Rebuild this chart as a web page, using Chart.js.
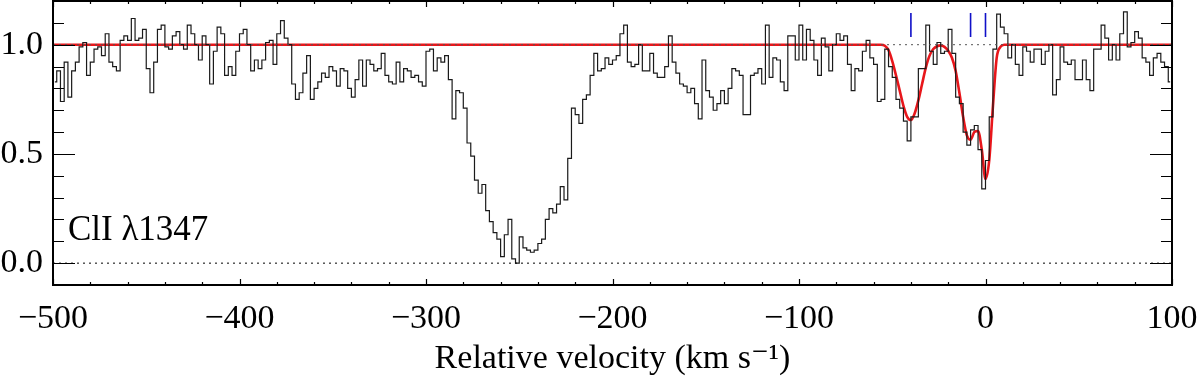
<!DOCTYPE html>
<html>
<head>
<meta charset="utf-8">
<script src="https://cdn.jsdelivr.net/npm/chart.js@4.4.1/dist/chart.umd.min.js"></script>
<style>
  html, body { margin: 0; padding: 0; background: #fff; }
  #wrap { width: 1200px; height: 378px; }
</style>
</head>
<body>
<div id="wrap"><canvas id="spec" width="1200" height="378"></canvas></div>
<script>
// ===== Cl II 1347 velocity profile =====

// pixel grid of the spectrum: first bin centre and bin width (km/s)
const VEL_START = -499;
const VEL_STEP = 2;

// normalised flux, one value per bin
const flux = [
    0.83, 0.88, 0.74, 0.92, 0.76, 0.88, 0.92, 0.99, 1.01, 0.86,
    0.92, 0.98, 0.99, 0.95, 1.05, 0.92, 0.90, 0.88, 1.02, 1.04,
    1.02, 1.12, 1.02, 1.03, 1.07, 0.89, 0.78, 0.92, 1.07, 1.09,
    0.99, 0.98, 1.04, 1.06, 1.00, 0.98, 1.09, 1.05, 1.00, 0.93,
    1.04, 1.00, 0.82, 0.97, 1.08, 1.05, 0.86, 0.90, 0.86, 0.97,
    1.05, 1.07, 1.00, 0.88, 0.93, 0.89, 0.93, 1.01, 1.02, 0.91,
    1.05, 1.11, 1.03, 1.00, 0.82, 0.75, 0.78, 0.87, 0.95, 0.75,
    0.80, 0.83, 0.87, 0.85, 0.90, 0.88, 0.81, 0.89, 0.88, 0.80,
    0.76, 0.84, 0.93, 0.81, 0.93, 0.91, 0.88, 0.89, 0.96, 0.86,
    0.83, 0.82, 0.92, 0.83, 0.89, 0.88, 0.85, 0.86, 0.83, 0.81,
    0.97, 0.98, 0.88, 0.94, 0.92, 0.95, 0.84, 0.66, 0.79, 0.78,
    0.71, 0.55, 0.49, 0.38, 0.32, 0.36, 0.24, 0.19, 0.14, 0.11,
    0.03, 0.13, 0.20, 0.02, 0.00, 0.12, 0.07, 0.06, 0.05, 0.06,
    0.09, 0.11, 0.20, 0.25, 0.23, 0.27, 0.35, 0.29, 0.48, 0.71,
    0.68, 0.64, 0.75, 0.77, 0.86, 0.96, 0.88, 0.89, 0.94, 0.91,
    0.93, 0.95, 1.05, 1.09, 0.92, 0.90, 0.91, 1.00, 0.88, 0.88,
    0.96, 0.87, 0.85, 0.85, 0.90, 1.04, 0.92, 0.87, 0.82, 0.81,
    0.78, 0.80, 0.73, 0.66, 0.93, 0.79, 0.76, 0.70, 0.73, 0.79,
    0.73, 0.80, 0.89, 0.88, 0.86, 0.68, 0.68, 0.86, 0.87, 0.89,
    0.82, 1.09, 0.85, 0.94, 0.93, 0.83, 0.79, 1.04, 1.04, 0.93,
    1.09, 0.93, 1.07, 1.02, 0.93, 0.86, 1.03, 0.99, 0.88, 1.00,
    1.05, 1.02, 1.04, 0.91, 0.79, 0.89, 0.88, 0.97, 1.02, 0.94,
    0.91, 0.74, 0.75, 0.98, 0.90, 0.85, 0.75, 0.71, 0.65, 0.56,
    0.67, 0.67, 0.89, 0.89, 1.09, 0.97, 0.91, 1.01, 0.96, 0.97,
    1.07, 0.96, 0.76, 0.73, 0.60, 0.54, 0.61, 0.63, 0.52, 0.34,
    0.47, 0.67, 0.98, 1.14, 1.08, 1.05, 0.94, 1.00, 0.91, 0.86,
    0.99, 0.97, 0.92, 0.98, 0.98, 0.91, 0.97, 1.00, 0.77, 0.84,
    0.99, 0.92, 0.91, 0.93, 0.84, 0.84, 0.93, 0.84, 0.79, 0.98,
    0.98, 1.09, 1.03, 0.93, 1.00, 0.93, 1.05, 1.15, 0.99, 1.01,
    1.06, 1.03, 0.94, 0.92, 0.86, 0.94, 0.96, 0.92, 0.90, 0.83
];

// Voigt profile fit (red curve)
const fitVel = [
    -500, -58, -56, -54, -52, -50, -48, -46, -44, -42, -40, -38, -36, -34,
    -32, -30, -28, -26, -24, -22, -20, -18, -16, -14, -12, -10, -8, -6,
    -4, -2, 0, 2, 4, 6, 8, 10, 12, 100
];
const fitFlux = [
    1.0, 1.0, 1.0, 0.995, 0.975, 0.925, 0.86, 0.79, 0.72, 0.67, 0.655, 0.685, 0.745, 0.82,
    0.895, 0.95, 0.98, 0.993, 0.997, 0.99, 0.972, 0.94, 0.88, 0.78, 0.67, 0.585, 0.565, 0.60,
    0.605, 0.52, 0.385, 0.47, 0.72, 0.94, 0.99, 1.0, 1.0, 1.0
];

// component positions (blue marks)
const componentVel = [-40, -8, 0];
const markLow = 1.035;
const markHigh = 1.145;

// axes
const xRange = [-500, 100];
const yRange = [-0.1, 1.2];
const xTickLabels = [-500, -400, -300, -200, -100, 0, 100];
const yTickLabels = [0.0, 0.5, 1.0];
const xMinorStep = 20;
const yMinorStep = 0.1;

const ionLabel = 'ClI \u03bb1347';
const ionLabelPos = { x: -492, y: 0.105 };

const SERIF = '"Liberation Serif", "DejaVu Serif", serif';

// build point lists for the library
const specPoints = flux.map((f, i) => ({ x: VEL_START + i * VEL_STEP, y: f }));
const fitPoints = fitVel.map((v, i) => ({ x: v, y: fitFlux[i] }));
const markPoints = [];
componentVel.forEach(v => {
    markPoints.push({ x: v, y: markLow }, { x: v, y: markHigh }, { x: v, y: null });
});

// frame, inward ticks (IDL style) and the ion label
const frameTicks = {
    id: 'frameTicks',
    afterDatasetsDraw(chart) {
        const { ctx, chartArea: a, scales: { x, y } } = chart;
        ctx.save();
        ctx.strokeStyle = '#000';

        // minor + major ticks along x (bottom and top)
        ctx.lineWidth = 1.2;
        for (let v = xRange[0]; v <= xRange[1] + 1e-9; v += xMinorStep) {
            const px = Math.round(x.getPixelForValue(v)) + 0.5;
            const major = xTickLabels.includes(v);
            const len = major ? 6 : 3;
            ctx.beginPath();
            ctx.moveTo(px, a.bottom); ctx.lineTo(px, a.bottom - len);
            ctx.moveTo(px, a.top); ctx.lineTo(px, a.top + len);
            ctx.stroke();
        }
        // minor + major ticks along y (left and right)
        for (let k = 0; k <= Math.round((yRange[1] - yRange[0]) / yMinorStep); k++) {
            const v = +(yRange[0] + k * yMinorStep).toFixed(2);
            const py = Math.round(y.getPixelForValue(v)) + 0.5;
            const major = yTickLabels.some(t => Math.abs(t - v) < 1e-6);
            const len = major ? 22 : 11;
            ctx.beginPath();
            ctx.moveTo(a.left, py); ctx.lineTo(a.left + len, py);
            ctx.moveTo(a.right, py); ctx.lineTo(a.right - len, py);
            ctx.stroke();
        }

        // box
        ctx.lineWidth = 2;
        ctx.strokeRect(a.left, a.top, a.right - a.left, a.bottom - a.top);

        // ion label
        ctx.fillStyle = '#000';
        ctx.font = '35px ' + SERIF;
        ctx.textBaseline = 'alphabetic';
        ctx.textAlign = 'left';
        ctx.fillText(ionLabel, x.getPixelForValue(ionLabelPos.x), y.getPixelForValue(ionLabelPos.y));
        ctx.restore();
    }
};

function minusLabel(v) {
    return v < 0 ? '\u2212' + Math.abs(v) : String(v);
}

document.addEventListener('DOMContentLoaded', function() {
    const ctx = document.getElementById('spec');

    new Chart(ctx, {
        type: 'line',
        data: {
            datasets: [
                {   // zero level
                    data: [{ x: xRange[0], y: 0 }, { x: xRange[1], y: 0 }],
                    borderColor: '#000',
                    borderWidth: 1,
                    borderDash: [2, 4],
                    pointRadius: 0
                },
                {   // continuum
                    data: [{ x: xRange[0], y: 1 }, { x: xRange[1], y: 1 }],
                    borderColor: '#555',
                    borderWidth: 1,
                    borderDash: [2, 4],
                    pointRadius: 0
                },
                {   // observed spectrum
                    data: specPoints,
                    borderColor: '#1a1a1a',
                    borderWidth: 1.2,
                    stepped: 'middle',
                    pointRadius: 0
                },
                {   // fit
                    data: fitPoints,
                    borderColor: '#e8161b',
                    borderWidth: 2.6,
                    cubicInterpolationMode: 'monotone',
                    pointRadius: 0
                },
                {   // component marks
                    data: markPoints,
                    borderColor: '#1010c8',
                    borderWidth: 1.6,
                    spanGaps: false,
                    pointRadius: 0
                }
            ]
        },
        options: {
            responsive: false,
            animation: false,
            events: [],
            layout: { padding: { top: 1, right: 28, left: 0, bottom: 0 } },
            plugins: {
                legend: { display: false },
                tooltip: { enabled: false }
            },
            scales: {
                x: {
                    type: 'linear',
                    min: xRange[0],
                    max: xRange[1],
                    afterBuildTicks: s => { s.ticks = xTickLabels.map(v => ({ value: v })); },
                    afterFit: s => {
                        s.height = 93;
                        s.paddingLeft = 0;
                        s.paddingRight = 0;
                    },
                    grid: { display: false, drawTicks: false },
                    border: { display: false },
                    ticks: {
                        color: '#000',
                        font: { family: SERIF, size: 34 },
                        padding: 14,
                        maxRotation: 0,
                        autoSkip: false,
                        callback: v => minusLabel(v)
                    },
                    title: {
                        display: true,
                        text: 'Relative velocity (km s\u207b\u00b9)',
                        color: '#000',
                        font: { family: SERIF, size: 34 },
                        padding: { top: 0, bottom: -1 }
                    }
                },
                y: {
                    type: 'linear',
                    min: yRange[0],
                    max: yRange[1],
                    afterBuildTicks: s => { s.ticks = yTickLabels.map(v => ({ value: v })); },
                    afterFit: s => {
                        s.width = 53;
                        s.paddingTop = 0;
                        s.paddingBottom = 0;
                    },
                    grid: { display: false, drawTicks: false },
                    border: { display: false },
                    ticks: {
                        color: '#000',
                        font: { family: SERIF, size: 34 },
                        padding: 10,
                        callback: v => v.toFixed(1)
                    }
                }
            }
        },
        plugins: [frameTicks]
    });
});
</script>
</body>
</html>
